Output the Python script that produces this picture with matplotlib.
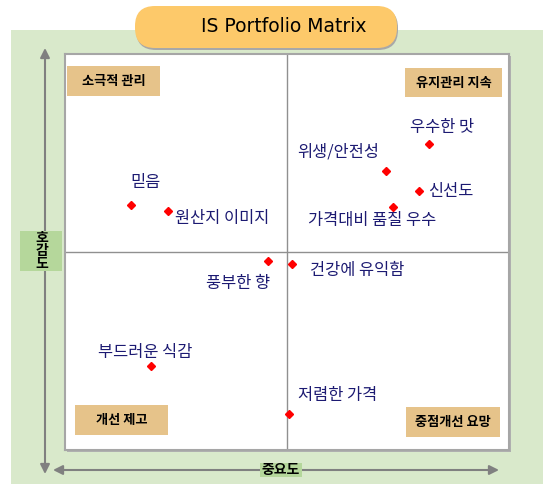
import matplotlib
matplotlib.use('Agg')
import matplotlib.pyplot as plt
from matplotlib.patches import Rectangle, FancyBboxPatch

plt.rcParams['font.family'] = ['Noto Sans CJK KR', 'DejaVu Sans']

# importance (x) and preference (y), 0-100 scale, split at 50
factors = ['우수한 맛', '위생/안전성', '신선도', '가격대비 품질 우수', '믿음',
           '원산지 이미지', '풍부한 향', '건강에 유익함', '부드러운 식감', '저렴한 가격']
importance = [82.0, 72.3, 79.7, 73.9, 14.9, 23.2, 45.7, 51.1, 19.4, 50.5]
preference = [77.3, 70.5, 65.4, 61.4, 61.9, 60.4, 47.7, 47.0, 21.2, 9.1]
quadrants = ['소극적 관리', '유지관리 지속', '개선 제고', '중점개선 요망']
title = 'IS Portfolio Matrix'
xlabel = '중요도'
ylabel = '호감도'

# label offsets in pixels (dx, dy up), alignment
offsets = [(13, 16, 'center'), (-48, 19, 'center'), (9, 0, 'left'),
           (-21, -14, 'center'), (14, 22, 'center'), (7, -8, 'left'),
           (-30, -22, 'center'), (18, -7, 'left'), (-6, 14, 'center'),
           (9, 18, 'left')]

W, H = 543, 484
fig = plt.figure(figsize=(W / 100, H / 100), dpi=100)

# background layer in pixel coordinates
bg = fig.add_axes([0, 0, 1, 1], zorder=0)
bg.set_xlim(0, W)
bg.set_ylim(H, 0)
bg.axis('off')
bg.add_patch(Rectangle((11, 30), W - 11, H - 30, facecolor='#d9e9cb', edgecolor='none'))
bg.add_patch(Rectangle((67, 56), 444, 396, facecolor='#b0b0b0', edgecolor='none'))

# double arrows
arrow_kw = dict(arrowstyle='<|-|>', color='#808080', lw=1.5, mutation_scale=14,
                shrinkA=0, shrinkB=0)
bg.annotate('', xy=(45, 48), xytext=(45, 474), arrowprops=arrow_kw)
bg.annotate('', xy=(499, 470), xytext=(53, 470), arrowprops=arrow_kw)

# title
bg.add_patch(FancyBboxPatch((136, 8), 262, 42, boxstyle='round,pad=0,rounding_size=20',
                            facecolor='#a8a8a8', edgecolor='none'))
bg.add_patch(FancyBboxPatch((135, 6), 262, 42, boxstyle='round,pad=0,rounding_size=20',
                            facecolor='#fdc96a', edgecolor='none'))
bg.text(284, 27, title, ha='center', va='center', fontsize=13.5, color='black',
        family=['DejaVu Sans'])

# plot area
ax = fig.add_axes([65 / W, (H - 450) / H, 444 / W, 396 / H], zorder=1)
ax.set_facecolor('white')
ax.set_xlim(0, 100)
ax.set_ylim(0, 100)
ax.set_xticks([])
ax.set_yticks([])
for s in ax.spines.values():
    s.set_color('#a6a6a6')
    s.set_linewidth(1.5)
ax.axvline(50, color='#909090', lw=1)
ax.axhline(50, color='#909090', lw=1)
ax.plot(importance, preference, linestyle='none', marker='D', markersize=4.2,
        color='#ff0000', markeredgecolor='#ff0000')
for name, x, y, (dx, dy, ha) in zip(factors, importance, preference, offsets):
    ax.annotate(name, (x, y), xytext=(dx, dy), textcoords='offset pixels',
                ha=ha, va='center', fontsize=11.8, color='#1c1a72')

# foreground layer: quadrant tags and axis labels
fg = fig.add_axes([0, 0, 1, 1], zorder=2)
fg.set_xlim(0, W)
fg.set_ylim(H, 0)
fg.axis('off')
fg.patch.set_alpha(0)
tag_boxes = [(67, 66, 93, 30), (405, 68, 97, 29), (75, 405, 93, 30), (406, 407, 94, 30)]
for name, (x0, y0, w, h) in zip(quadrants, tag_boxes):
    fg.add_patch(Rectangle((x0, y0), w, h, facecolor='#e6c38a', edgecolor='none'))
    fg.text(x0 + w / 2, y0 + h / 2, name, ha='center', va='center',
            fontsize=9.5, fontweight='bold', color='black')

fg.add_patch(Rectangle((20, 231), 42, 40, facecolor='#b5d79b', edgecolor='none'))
fg.text(42, 251, '\n'.join(ylabel), ha='center', va='center', fontsize=10,
        fontweight='bold', color='black', linespacing=0.95)
fg.add_patch(Rectangle((260, 463), 42, 14, facecolor='#b5d79b', edgecolor='none'))
fg.text(281, 470, xlabel, ha='center', va='center', fontsize=10,
        fontweight='bold', color='black')

fig.savefig('out.png', dpi=100)
